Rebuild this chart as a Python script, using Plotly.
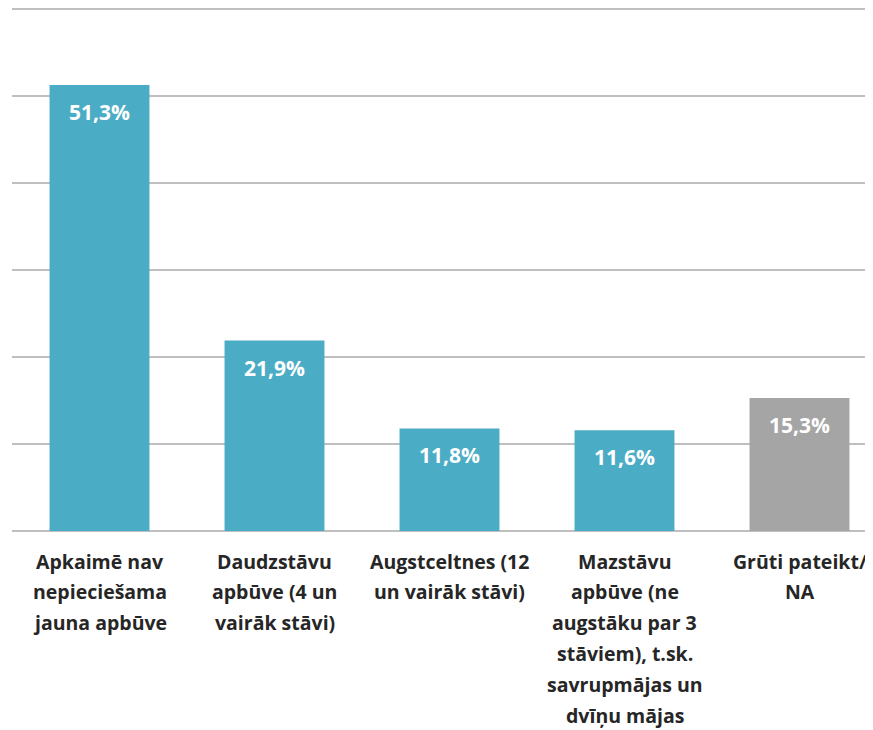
"""Latvian survey bar chart: preferred new building type in the neighbourhood."""

import plotly.graph_objects as go

categories = [
    "Apkaimē nav<br>nepieciešama<br>jauna apbūve",
    "Daudzstāvu<br>apbūve (4 un<br>vairāk stāvi)",
    "Augstceltnes (12<br>un vairāk stāvi)",
    "Mazstāvu<br>apbūve (ne<br>augstāku par 3<br>stāviem), t.sk.<br>savrupmājas un<br>dvīņu mājas",
    "Grūti pateikt/<br>NA",
]
values = [51.3, 21.9, 11.8, 11.6, 15.3]
colors = ["#4bacc6", "#4bacc6", "#4bacc6", "#4bacc6", "#a5a5a5"]

FONT = "'Open Sans', sans-serif"

fig = go.Figure(
    go.Bar(
        x=list(range(len(categories))),
        y=values,
        marker_color=colors,
        marker_line_width=0,
        hoverinfo="skip",
    )
)

# value labels inside the top of each bar
for i, v in enumerate(values):
    fig.add_annotation(
        x=i, y=v, yanchor="middle", yshift=-27,
        text=f"<b>{v:.1f}".replace(".", ",") + "%</b>",
        showarrow=False,
        font=dict(family=FONT, size=21, color="white"),
    )

# category labels, one annotation per line to get the wide line spacing
for i, cat in enumerate(categories):
    for j, line in enumerate(cat.split("<br>")):
        fig.add_annotation(
            x=i, y=0, yref="paper", yanchor="middle",
            yshift=-30 - j * 30.8,
            text=f"<b>{line}</b>",
            showarrow=False,
            font=dict(family=FONT, size=19.5, color="#262626"),
        )

# the page body adds an 8px margin, so the figure is 8px smaller
fig.update_layout(
    width=865,
    height=722,
    margin=dict(l=4, r=0, t=0, b=199),
    paper_bgcolor="white",
    plot_bgcolor="white",
    bargap=0.429,
    showlegend=False,
)
fig.update_xaxes(
    range=[-0.5, 4.42],
    showticklabels=False,
    showgrid=False,
    zeroline=False,
    showline=False,
    ticks="",
)
fig.update_yaxes(
    range=[0, 60.15],
    dtick=10,
    showticklabels=False,
    showgrid=True,
    gridcolor="#bfbfbf",
    gridwidth=1.5,
    zeroline=True,
    zerolinecolor="#bfbfbf",
    zerolinewidth=1.5,
    showline=False,
    ticks="",
)

fig.write_html("out.html")
